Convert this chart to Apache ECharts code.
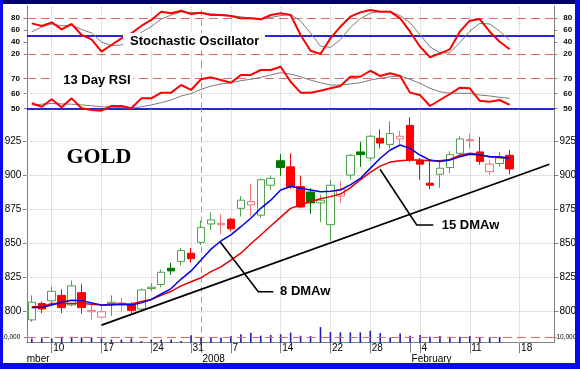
<!DOCTYPE html>
<html><head><meta charset="utf-8">
<script src="https://cdn.jsdelivr.net/npm/echarts@6/dist/echarts.min.js"></script>
<style>html,body{margin:0;padding:0;background:#fff}#c{width:580px;height:369px}</style>
</head><body><div id="c"></div>
<script>
// ---------- data ----------
const dates = ['2007-12-06','2007-12-07','2007-12-10','2007-12-11','2007-12-12','2007-12-13','2007-12-14','2007-12-17','2007-12-18','2007-12-19','2007-12-20','2007-12-21','2007-12-24','2007-12-26','2007-12-27','2007-12-28','2007-12-31',
'2008-01-02','2008-01-03','2008-01-04','2008-01-07','2008-01-08','2008-01-09','2008-01-10','2008-01-11','2008-01-14','2008-01-15','2008-01-16','2008-01-17','2008-01-18','2008-01-22','2008-01-23','2008-01-24','2008-01-25','2008-01-28','2008-01-29','2008-01-30','2008-01-31',
'2008-02-01','2008-02-04','2008-02-05','2008-02-06','2008-02-07','2008-02-08','2008-02-11','2008-02-12','2008-02-13','2008-02-14','2008-02-15','2008-02-18','2008-02-19','2008-02-20','2008-02-21'];
const open  = [794,806,808,812,805,814,800,796,806,805,805,802,817,820,832,837,843,851,864.5,864,868,876,878.5,871,893,911,906.5,892,888,880,864,885,900.5,917.5,913,927.5,923,927,937,911,894.5,901,906,916.5,925.8,917.5,903,909,915];
const close = [807,802,815,803,819,803,801,800,807,806.5,801,816,818,829,830,845,839,862,867.5,865,861,882,881,897,898,906,892,877,880,882,893,890,915,915.5,929,924,931,929,911.5,908.5,893,905.5,915.5,927,926.5,910.5,908.5,913,905];
const low   = [792.5,799,806,799,804,798.5,794,795,797,800,799,800,815,818,827,834,836,849,860,857,859,870,870,869,889.5,900,890.5,876,872,866,852,880,897,906.5,911,920,920,923,910,897,890,891,902,915,920,908,900.5,906.5,901];
const high  = [812,807.5,818.5,816.5,823,820.5,807,805,812,810,807,817,821,831,836,847,847,867,873,872,869,885,894,898,900,916,916.5,900,891,886,897,896,916,925,930,934,940,933,943,913,912,910,918,929,931,928.5,911.5,917.5,919];
const dma8  = [803,803,805,807,808.5,808,806.5,805,805,805.5,805,806.5,809,813,817,824,830,838,846,852,856.5,862.5,868.7,876,882,889.5,892,890.7,889.5,888.2,888.5,889.5,893.2,898,905.4,912.8,918.9,922.6,920.1,915.2,911.5,910.5,911.5,914,915.7,915.2,914,914,912.8];
const dma15 = [803.7,803.7,806,806,806,806,805.5,805,805.5,805.7,805.7,807.5,809,812,815,819,822,825,829.5,833,838,843,850,856.4,863,869.5,876,878.5,881,883,884.6,886.5,891,897,902.5,907,910,911,911.5,911.5,911,911,912,915,916.5,915.5,914,913.5,912.5];
const stochK = [71,66.7,72.8,61,70,51.7,44.4,23.9,35,46,54.4,66.7,76.7,90.5,87.8,92.2,86.7,88.9,85,85,83.3,79.4,79.4,77.8,85,88,85,51.7,25.5,20,46,65.5,82.2,89.4,93.3,90.5,90.5,79.4,57.2,32.2,14.5,21.1,27.8,57.2,75.5,78.3,57.2,40.5,27.8];
const stochD = [57,65,70,67,68,61,55,40,34,35,45,56,66,78,85,90,89,89,87,86,84,82,80,79,81,84,86,75,55,33,31,44,64,79,88,91,91,84,72,52,32,22,22,39,58,71,70,58,43];
const rsi    = [53.6,51.3,56.3,50.9,56.9,50.3,49.1,48.7,51.8,51.8,50.3,56.9,56.9,60.7,60.7,65.8,62.5,69.6,70.9,69.1,67.3,72.5,72.5,75.8,75.8,78,68,60.7,60.7,62,63.6,65.1,71.3,71.3,75.3,71.8,73.6,71.8,60.7,59.1,51.8,55.8,59.8,64,63.6,55.3,54.7,55.8,52.5];
const rsiAvg = [52.4,53,53.5,53.2,53,52.5,52,51.3,51,50.7,50.3,51.3,52.5,54,55.8,58.5,60,62.9,65.1,66.5,67.3,68.7,69.6,70.9,72.5,74,73.1,71.3,69.1,67.3,65.8,65.8,66.5,67.3,69.1,70.3,71.3,71.8,69.6,66.9,63.6,61.3,60.3,60.3,60.3,59.1,58.5,57.6,56.9];
const volume = [8000,8000,8000,11300,11300,10000,10000,8000,6000,6000,8000,3300,6000,6000,6000,3300,14000,9000,10000,10000,12700,16000,19000,13300,14700,16000,19000,13000,12700,29500,20000,19500,19500,19500,22500,18000,10000,17500,13000,14500,11000,12700,11000,11000,12700,11000,11000,11000];
const trendDates = ['2007-12-17','2008-02-21'];
const trendValues = [790.2, 908.4];
const dayTickDates = ['2007-12-10','2007-12-17','2007-12-24','2007-12-31','2008-01-07','2008-01-14','2008-01-22','2008-01-28','2008-02-04','2008-02-11','2008-02-18'];
const monthDates = ['2008-01-02','2008-02-01'];
const monthNames = ['2008','February'];
const priceTicks = [800,825,850,875,900,925];
const volumeTicks = [10000];
const stochBands = [80,20], stochMid = [50];
const rsiBands = [70], rsiGridVals = [60], rsiMid = [50];

// ---------- chart ----------
const chart = echarts.init(document.getElementById('c'), null, {renderer:'canvas', width:580, height:369});
const FONT = 'Liberation Sans';
const L = 26.82, W = 527.6;
const AX = '#808080';
const grids = [
  {left:L, top:6, width:W, height:60},
  {left:L, top:66, width:W, height:42.7},
  {left:L, top:108.7, width:W, height:234},
  {left:L, top:310.9, width:W, height:31.8}
].map(g => Object.assign({containLabel:false, outerBoundsMode:'none', show:false}, g));

function hiddenX(gi){ return {type:'category', gridIndex:gi, data:dates, boundaryGap:true, show:false}; }
function yAx(gi, pos, min, max, lab, tick, extra){
  return Object.assign({type:'value', gridIndex:gi, position:pos, min:min, max:max,
    axisLine:{show:true, lineStyle:{color:AX, width:1}},
    axisTick:Object.assign({show:true, length:4, lineStyle:{color:AX}}, tick||{}),
    axisLabel:Object.assign({show:true, color:'#000', fontFamily:FONT, fontSize:10, margin:5}, lab||{}),
    splitLine:{show:false}}, extra||{});
}
const smallLab = {fontSize:8, fontWeight:'bold', showMinLabel:false, showMaxLabel:false};
const isDay = (i, v) => dayTickDates.indexOf(v) >= 0;
const isMonth = (i, v) => monthDates.indexOf(v) >= 0;

const dotted = {color:'#c8c8c8', type:'dotted', width:1};
const redDash = {color:'#e06a6a', type:[9,5], width:1};
const blueSolid = {color:'#2626d6', type:'solid', width:2};
function marks(list, z){ return {silent:true, symbol:['none','none'], label:{show:false}, animation:false, z:(z==null?1:z), data:list}; }
const verticals = dayTickDates.map(d => ({xAxis:d, lineStyle:dotted}))
  .concat([{xAxis:monthDates[0], lineStyle:{color:'#a0a0a0', type:[6,4], width:1}}]);

function candleStyle(i){
  const up = i === 0 ? close[i] >= open[i] : close[i] >= close[i-1];
  const filled = close[i] < open[i];
  const line = up ? (filled ? '#007800' : '#4f9f4f') : (filled ? '#ff0000' : '#f07474');
  const fill = filled ? line : '#ffffff';
  return {color:fill, color0:fill, borderColor:line, borderColor0:line, borderWidth:1};
}

const option = {
  animation:false,
  backgroundColor:'#ffffff',
  textStyle:{fontFamily:FONT},
  grid:grids,
  xAxis:[
    hiddenX(0), hiddenX(1), hiddenX(2),
    {type:'category', gridIndex:3, data:dates, boundaryGap:true, position:'bottom',
     axisLine:{show:true, lineStyle:{color:AX}},
     axisTick:{show:true, alignWithLabel:true, interval:isDay, length:10.6, lineStyle:{color:AX}},
     axisLabel:{show:true, interval:isDay, formatter:v => String(parseInt(v.slice(8),10)), align:'left', padding:[0,0,0,1.5], margin:1, fontSize:10, color:'#000', fontFamily:FONT},
     splitLine:{show:false}},
    {type:'category', gridIndex:3, data:dates, boundaryGap:true, position:'bottom', offset:10.6,
     axisLine:{show:true, lineStyle:{color:AX}},
     axisTick:{show:true, alignWithLabel:true, interval:isMonth, length:10, lineStyle:{color:AX}},
     axisLabel:{show:true, interval:isMonth, formatter:v => monthNames[monthDates.indexOf(v)], align:'left', padding:[0,0,0,1.5], margin:0.5, fontSize:10, color:'#000', fontFamily:FONT},
     splitLine:{show:false}}
  ],
  yAxis:[
    yAx(0,'left',0,100, Object.assign({margin:6.8}, smallLab), {length:3}, {interval:20}),
    yAx(0,'right',0,100, Object.assign({margin:8.9}, smallLab), {length:3}, {interval:20}),
    yAx(1,'left',50,78.47, {margin:6.8, fontSize:8, fontWeight:'bold', showMaxLabel:false}, {length:3}, {interval:10}),
    yAx(1,'right',50,78.47, {margin:8.9, fontSize:8, fontWeight:'bold', showMaxLabel:false}, {length:3}, {interval:10}),
    yAx(2,'left',777.21,949.26, {customValues:priceTicks, margin:5.5}, {customValues:priceTicks}),
    yAx(2,'right',777.21,949.26, {customValues:priceTicks, margin:5}, {customValues:priceTicks}),
    yAx(3,'left',0,60000, {customValues:volumeTicks, fontSize:6.5, margin:6.5}, {customValues:volumeTicks, length:3}, {axisLine:{show:false}}),
    yAx(3,'right',0,60000, {customValues:volumeTicks, fontSize:6.5, margin:2}, {customValues:volumeTicks, length:2}, {axisLine:{show:false}})
  ],
  series:[
    {name:'%D', type:'line', xAxisIndex:0, yAxisIndex:0, data:stochD, symbol:'none', lineStyle:{color:'#7a7a7a', width:1},
     markLine:marks(verticals.concat(stochBands.map(v => ({yAxis:v, lineStyle:redDash}))).concat(stochMid.map(v => ({yAxis:v, lineStyle:blueSolid}))))},
    {name:'%K', type:'line', xAxisIndex:0, yAxisIndex:0, data:stochK, symbol:'none', lineStyle:{color:'#ff0000', width:2}},
    {name:'RSI avg', type:'line', xAxisIndex:1, yAxisIndex:2, data:rsiAvg, symbol:'none', clip:false, lineStyle:{color:'#7a7a7a', width:1},
     markLine:marks(verticals.concat(rsiBands.map(v => ({yAxis:v, lineStyle:redDash})))
        .concat(rsiGridVals.map(v => ({yAxis:v, lineStyle:dotted})))
        .concat(rsiMid.map(v => ({yAxis:v, lineStyle:blueSolid}))))},
    {name:'RSI', type:'line', xAxisIndex:1, yAxisIndex:2, data:rsi, symbol:'none', clip:false, lineStyle:{color:'#ff0000', width:2}},
    {name:'Gold', type:'candlestick', xAxisIndex:2, yAxisIndex:4, barWidth:8,
     data:open.map((o,i) => ({value:[open[i], close[i], low[i], high[i]], itemStyle:candleStyle(i)})),
     markLine:marks(verticals.concat(priceTicks.map(v => ({yAxis:v, lineStyle:dotted}))))},
    {name:'15 DMAw', type:'line', xAxisIndex:2, yAxisIndex:4, data:dma15, symbol:'none', lineStyle:{color:'#e60000', width:1.5}, z:3},
    {name:'8 DMAw', type:'line', xAxisIndex:2, yAxisIndex:4, data:dma8, symbol:'none', lineStyle:{color:'#0000e6', width:1.5}, z:3},
    {name:'Trend', type:'line', xAxisIndex:2, yAxisIndex:4, data:trendDates.map((d,i) => [d, trendValues[i]]), symbol:'none', lineStyle:{color:'#000', width:1.8}, z:3},
    {name:'Volume', type:'bar', xAxisIndex:3, yAxisIndex:6, data:volume, barWidth:1.6, itemStyle:{color:'#1c1cb8'},
     markLine:marks(volumeTicks.map(v => ({yAxis:v, lineStyle:redDash})), 5)}
  ]
};
chart.setOption(option);

// ---------- annotations ----------
const px = (i, v) => chart.convertToPixel({xAxisIndex:2, yAxisIndex:4}, [i, v]);
const a8 = px(19, dma8[19]);
const a15 = px(35, dma15[35]);
const x0 = chart.convertToPixel({xAxisIndex:3}, dates[0]);
const x1 = chart.convertToPixel({xAxisIndex:3}, dates[1]);
const slot = x1 - x0;

const T = (text, x, y, font) => ({type:'text', x:x, y:y, z:100, silent:true, style:{text:text, font:font, fill:'#000', align:'left', verticalAlign:'middle'}});
const R = (x, y, w, h, fill) => ({type:'rect', z:100, silent:true, shape:{x:x, y:y, width:w, height:h}, style:{fill:fill}});
const P = (pts) => ({type:'polyline', z:100, silent:true, shape:{points:pts}, style:{stroke:'#000', lineWidth:1.6, fill:null}});
const B13 = 'bold 13px "Liberation Sans"';

chart.setOption({graphic:{elements:[
  R(123, 33, 142, 17, '#fff'),
  T('Stochastic Oscillator', 130, 41.7, B13),
  R(55, 72.5, 78, 16, '#fff'),
  T('13 Day RSI', 63.3, 80.7, B13),
  T('GOLD', 66.5, 157.5, 'bold 22px "Liberation Serif"'),
  P([[a8[0]-0.9, a8[1]+0.7], [a8[0]+37.4, a8[1]+50.7], [a8[0]+52.4, a8[1]+50.7]]),
  T('8 DMAw', a8[0]+59.1, a8[1]+50.7, B13),
  P([[a15[0]-0.2, a15[1]+3.1], [a15[0]+36.5, a15[1]+58.8], [a15[0]+53.1, a15[1]+58.8]]),
  T('15 DMAw', a15[0]+61.5, a15[1]+58.8, B13),
  T('December', x0 - 3*slot + 1.5, 359, '10px "Liberation Sans"'),
  R(3, 343.5, 23.6, 20, '#fff'),
  R(0, 0, 580, 4, '#00006e'),
  R(0, 0, 3, 369, '#0a0aee'),
  R(575, 0, 5, 369, '#0a0aee'),
  R(0, 363, 580, 6, '#0a0aee')
]}});
</script></body></html>
